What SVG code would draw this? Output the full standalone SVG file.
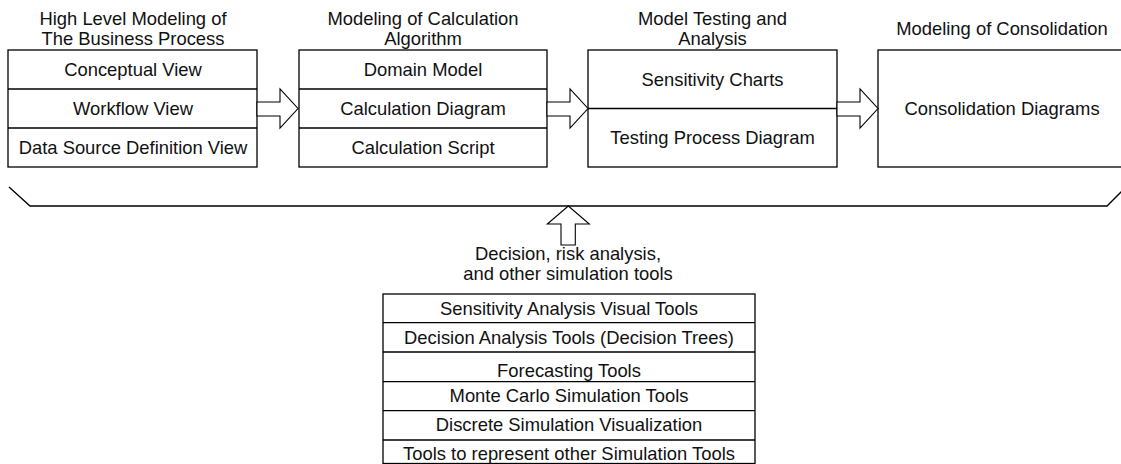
<svg xmlns="http://www.w3.org/2000/svg" width="1121" height="464" viewBox="0 0 1121 464">
  <style>
    .box { fill: #fff; stroke: #000; stroke-width: 1.3; }
    .div { stroke: #000; stroke-width: 1.3; fill: none; }
    .arrow { fill: #fff; stroke: #000; stroke-width: 1.1; stroke-linejoin: miter; }
    .t { font-family: "Liberation Sans", Arial, sans-serif; font-size: 18.4px; fill: #111; text-anchor: middle; }
  </style>

  <!-- Stage 1 -->
  <g id="stage-business-process">
    <text class="t" x="133" y="25">High Level Modeling of</text>
    <text class="t" x="133" y="44.5">The Business Process</text>
    <rect class="box" x="8" y="50" width="249" height="117"/>
    <line class="div" x1="8" y1="89" x2="257" y2="89"/>
    <line class="div" x1="8" y1="128" x2="257" y2="128"/>
    <text class="t" x="133" y="76">Conceptual View</text>
    <text class="t" x="133" y="115">Workflow View</text>
    <text class="t" x="133" y="154">Data Source Definition View</text>
  </g>

  <!-- Stage 2 -->
  <g id="stage-calculation">
    <text class="t" x="423" y="25">Modeling of Calculation</text>
    <text class="t" x="423" y="44.5">Algorithm</text>
    <rect class="box" x="299" y="50" width="248" height="117"/>
    <line class="div" x1="299" y1="89" x2="547" y2="89"/>
    <line class="div" x1="299" y1="128" x2="547" y2="128"/>
    <text class="t" x="423" y="76">Domain Model</text>
    <text class="t" x="423" y="115">Calculation Diagram</text>
    <text class="t" x="423" y="154">Calculation Script</text>
  </g>

  <!-- Stage 3 -->
  <g id="stage-testing">
    <text class="t" x="712.5" y="25">Model Testing and</text>
    <text class="t" x="712.5" y="44.5">Analysis</text>
    <rect class="box" x="588" y="50" width="249" height="117"/>
    <line class="div" x1="588" y1="108.5" x2="837" y2="108.5"/>
    <text class="t" x="712.5" y="86">Sensitivity Charts</text>
    <text class="t" x="712.5" y="144">Testing Process Diagram</text>
  </g>

  <!-- Stage 4 -->
  <g id="stage-consolidation">
    <text class="t" x="1002" y="34.5">Modeling of Consolidation</text>
    <rect class="box" x="878" y="50" width="248" height="117"/>
    <text class="t" x="1002" y="115">Consolidation Diagrams</text>
  </g>

  <!-- Simulation tools list -->
  <g id="simulation-tools">
    <text class="t" x="568" y="260">Decision, risk analysis,</text>
    <text class="t" x="568" y="280">and other simulation tools</text>
    <rect class="box" x="383" y="294" width="372" height="169.5"/>
    <line class="div" x1="383" y1="322.7" x2="755" y2="322.7"/>
    <line class="div" x1="383" y1="352" x2="755" y2="352"/>
    <line class="div" x1="383" y1="381.7" x2="755" y2="381.7"/>
    <line class="div" x1="383" y1="410.7" x2="755" y2="410.7"/>
    <line class="div" x1="383" y1="440" x2="755" y2="440"/>
    <text class="t" x="569" y="315">Sensitivity Analysis Visual Tools</text>
    <text class="t" x="569" y="344">Decision Analysis Tools (Decision Trees)</text>
    <text class="t" x="569" y="376.5">Forecasting Tools</text>
    <text class="t" x="569" y="402">Monte Carlo Simulation Tools</text>
    <text class="t" x="569" y="431">Discrete Simulation Visualization</text>
    <text class="t" x="569" y="460">Tools to represent other Simulation Tools</text>
  </g>

  <!-- Connectors: block arrows and the bracket -->
  <g id="connectors">
    <polygon class="arrow" points="257,102 280,102 280,89 298,108.5 280,128 280,116 257,116"/>
    <polygon class="arrow" points="547,102 570,102 570,89 588,108.5 570,128 570,116 547,116"/>
    <polygon class="arrow" points="837,102 860,102 860,89 878,108.5 860,128 860,116 837,116"/>
    <polyline class="div" points="9,187 30,206 1107,206 1126,187"/>
    <polygon class="arrow" points="568.3,206 589.3,224 575.3,224 575.3,245 561,245 561,224 547.3,224"/>
  </g>
</svg>
